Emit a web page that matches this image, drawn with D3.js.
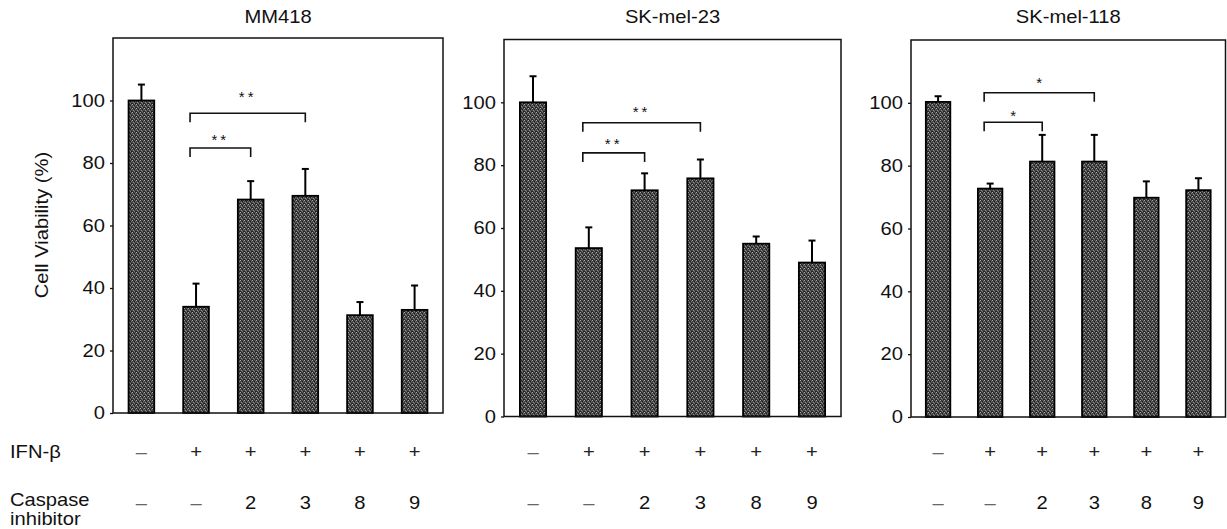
<!DOCTYPE html>
<html><head><meta charset="utf-8">
<script src="https://cdn.jsdelivr.net/npm/d3@7"></script>
<style>body{margin:0;background:#fff}svg text{font-family:"Liberation Sans",Arial,sans-serif;fill:#111}</style>
</head><body><svg id="c" width="1227" height="529"></svg>
<script>
// ---------- data ----------
const panelTitles = ["MM418", "SK-mel-23", "SK-mel-118"];
const conditions = [0, 1, 2, 3, 4, 5];
const ifnLabels = ["\u2013", "+", "+", "+", "+", "+"];
const caspaseLabels = ["\u2013", "\u2013", "2", "3", "8", "9"];
const yTicks = [0, 20, 40, 60, 80, 100];
const yMax = 120;

const mm418Values = [100, 34, 68.3, 69.5, 31.3, 33];
const mm418Errors = [5.1, 7.4, 5.9, 8.6, 4.2, 7.8];
const skmel23Values = [100, 53.6, 72, 75.8, 55, 49];
const skmel23Errors = [8.3, 6.6, 5.4, 6, 2.3, 7];
const skmel118Values = [100.3, 72.7, 81.3, 81.3, 69.8, 72.2];
const skmel118Errors = [1.8, 1.6, 8.5, 8.5, 5.2, 3.8];

// significance brackets: from/to condition, bracket level, star level (value units)
const mm418Brackets = [
  {from: 1, to: 2, level: 84.8, star: 88.5, label: "**"},
  {from: 1, to: 3, level: 95.9, star: 102.2, label: "**"}];
const skmel23Brackets = [
  {from: 1, to: 2, level: 83.9, star: 88, label: "**"},
  {from: 1, to: 3, level: 93.5, star: 98.2, label: "**"}];
const skmel118Brackets = [
  {from: 1, to: 2, level: 93.8, star: 97, label: "*"},
  {from: 1, to: 3, level: 103.2, star: 107.4, label: "*"}];

const panelValues = [mm418Values, skmel23Values, skmel118Values];
const panelErrors = [mm418Errors, skmel23Errors, skmel118Errors];
const panelBrackets = [mm418Brackets, skmel23Brackets, skmel118Brackets];

// ---------- layout ----------
const frames = [
  {left: 113, right: 443, top: 38, bottom: 413},
  {left: 504, right: 841, top: 39.5, bottom: 416.5},
  {left: 911, right: 1225.5, top: 40, bottom: 417}];
const FS = 18, SX = 1.12;

const svg = d3.select("#c");
const defs = svg.append("defs");
const pat = defs.append("pattern").attr("id", "stip")
  .attr("width", 4).attr("height", 4).attr("patternUnits", "userSpaceOnUse");
pat.append("rect").attr("width", 4).attr("height", 4).attr("fill", "#474747");
[[0,0,"#a8a8a8"],[2,1,"#1a1a1a"],[1,2,"#8c8c8c"],[3,3,"#1e1e1e"],[3,1,"#6e6e6e"],[0,3,"#262626"],[2,3,"#7a7a7a"],[1,0,"#2a2a2a"]]
  .forEach(([x,y,c]) => pat.append("rect").attr("x",x).attr("y",y).attr("width",1).attr("height",1).attr("fill",c));

function addText(parent, x, y, str, anchor, size, extra) {
  return parent.append("text")
    .attr("transform", `translate(${x},${y})${extra || ""} scale(${SX},1)`)
    .attr("text-anchor", anchor || "start")
    .style("font-size", (size || FS) + "px")
    .text(str);
}

frames.forEach((f, p) => {
  const g = svg.append("g");
  const x = d3.scaleBand().domain(conditions).range([f.left, f.right])
    .paddingInner(0.53).paddingOuter(0.285);
  const y = d3.scaleLinear().domain([0, yMax]).range([f.bottom, f.top]);
  const cx = i => x(i) + x.bandwidth() / 2;

  // y axis ticks
  const ax = g.append("g").attr("transform", `translate(${f.left},0)`)
    .call(d3.axisLeft(y).tickValues(yTicks).tickSize(3).tickPadding(5));
  ax.select(".domain").remove();
  ax.selectAll(".tick line").attr("stroke", "#111").attr("stroke-width", 1.3);
  ax.selectAll(".tick text").attr("font-family", null).style("font-size", FS + "px")
    .attr("x", -8 / SX).attr("transform", `scale(${SX},1)`).attr("fill", "#111");

  // bars
  const vals = panelValues[p], errs = panelErrors[p];
  g.selectAll("rect.bar").data(conditions).join("rect").attr("class", "bar")
    .attr("x", i => x(i)).attr("width", x.bandwidth())
    .attr("y", i => y(vals[i])).attr("height", i => y(0) - y(vals[i]))
    .attr("fill", "url(#stip)").attr("stroke", "#000").attr("stroke-width", 1.8);

  // error bars (upper only)
  g.selectAll("line.err").data(conditions).join("line").attr("class", "err")
    .attr("x1", cx).attr("x2", cx)
    .attr("y1", i => y(vals[i])).attr("y2", i => y(vals[i] + errs[i]))
    .attr("stroke", "#000").attr("stroke-width", 2);
  g.selectAll("line.cap").data(conditions).join("line").attr("class", "cap")
    .attr("x1", i => cx(i) - 3.5).attr("x2", i => cx(i) + 3.5)
    .attr("y1", i => y(vals[i] + errs[i])).attr("y2", i => y(vals[i] + errs[i]))
    .attr("stroke", "#000").attr("stroke-width", 2);

  // frame
  g.append("rect").attr("x", f.left).attr("y", f.top)
    .attr("width", f.right - f.left).attr("height", f.bottom - f.top)
    .attr("fill", "none").attr("stroke", "#111").attr("stroke-width", 1.5);

  // brackets
  panelBrackets[p].forEach(b => {
    const x1 = cx(b.from) - 6, x2 = cx(b.to), yl = y(b.level), drop = 9;
    g.append("path").attr("d", `M${x1},${yl + drop}V${yl}H${x2}V${yl + drop}`)
      .attr("fill", "none").attr("stroke", "#111").attr("stroke-width", 1.6);
    g.append("text").attr("x", (x1 + x2) / 2).attr("y", y(b.star) + 0.57 * 15)
      .attr("text-anchor", "middle").style("font-size", "15px")
      .style("letter-spacing", b.label.length > 1 ? "3px" : "0px").text(b.label);
  });

  // title
  addText(g, (f.left + f.right) / 2, 22.5, panelTitles[p], "middle");

  // condition rows
  conditions.forEach(i => {
    addText(g, cx(i), 458, ifnLabels[i], "middle").style("fill", ifnLabels[i] === "+" ? "#222" : "#666");
    addText(g, cx(i), 509, caspaseLabels[i], "middle").style("fill", /\d/.test(caspaseLabels[i]) ? "#111" : "#666");
  });
});

// left labels
addText(svg, 10, 457.5, "IFN-\u03b2", "start");
addText(svg, 10, 506, "Caspase", "start");
addText(svg, 10, 524.5, "inhibitor", "start");
addText(svg, 48, 225, "Cell Viability (%)", "middle", FS, " rotate(-90)");
</script></body></html>
